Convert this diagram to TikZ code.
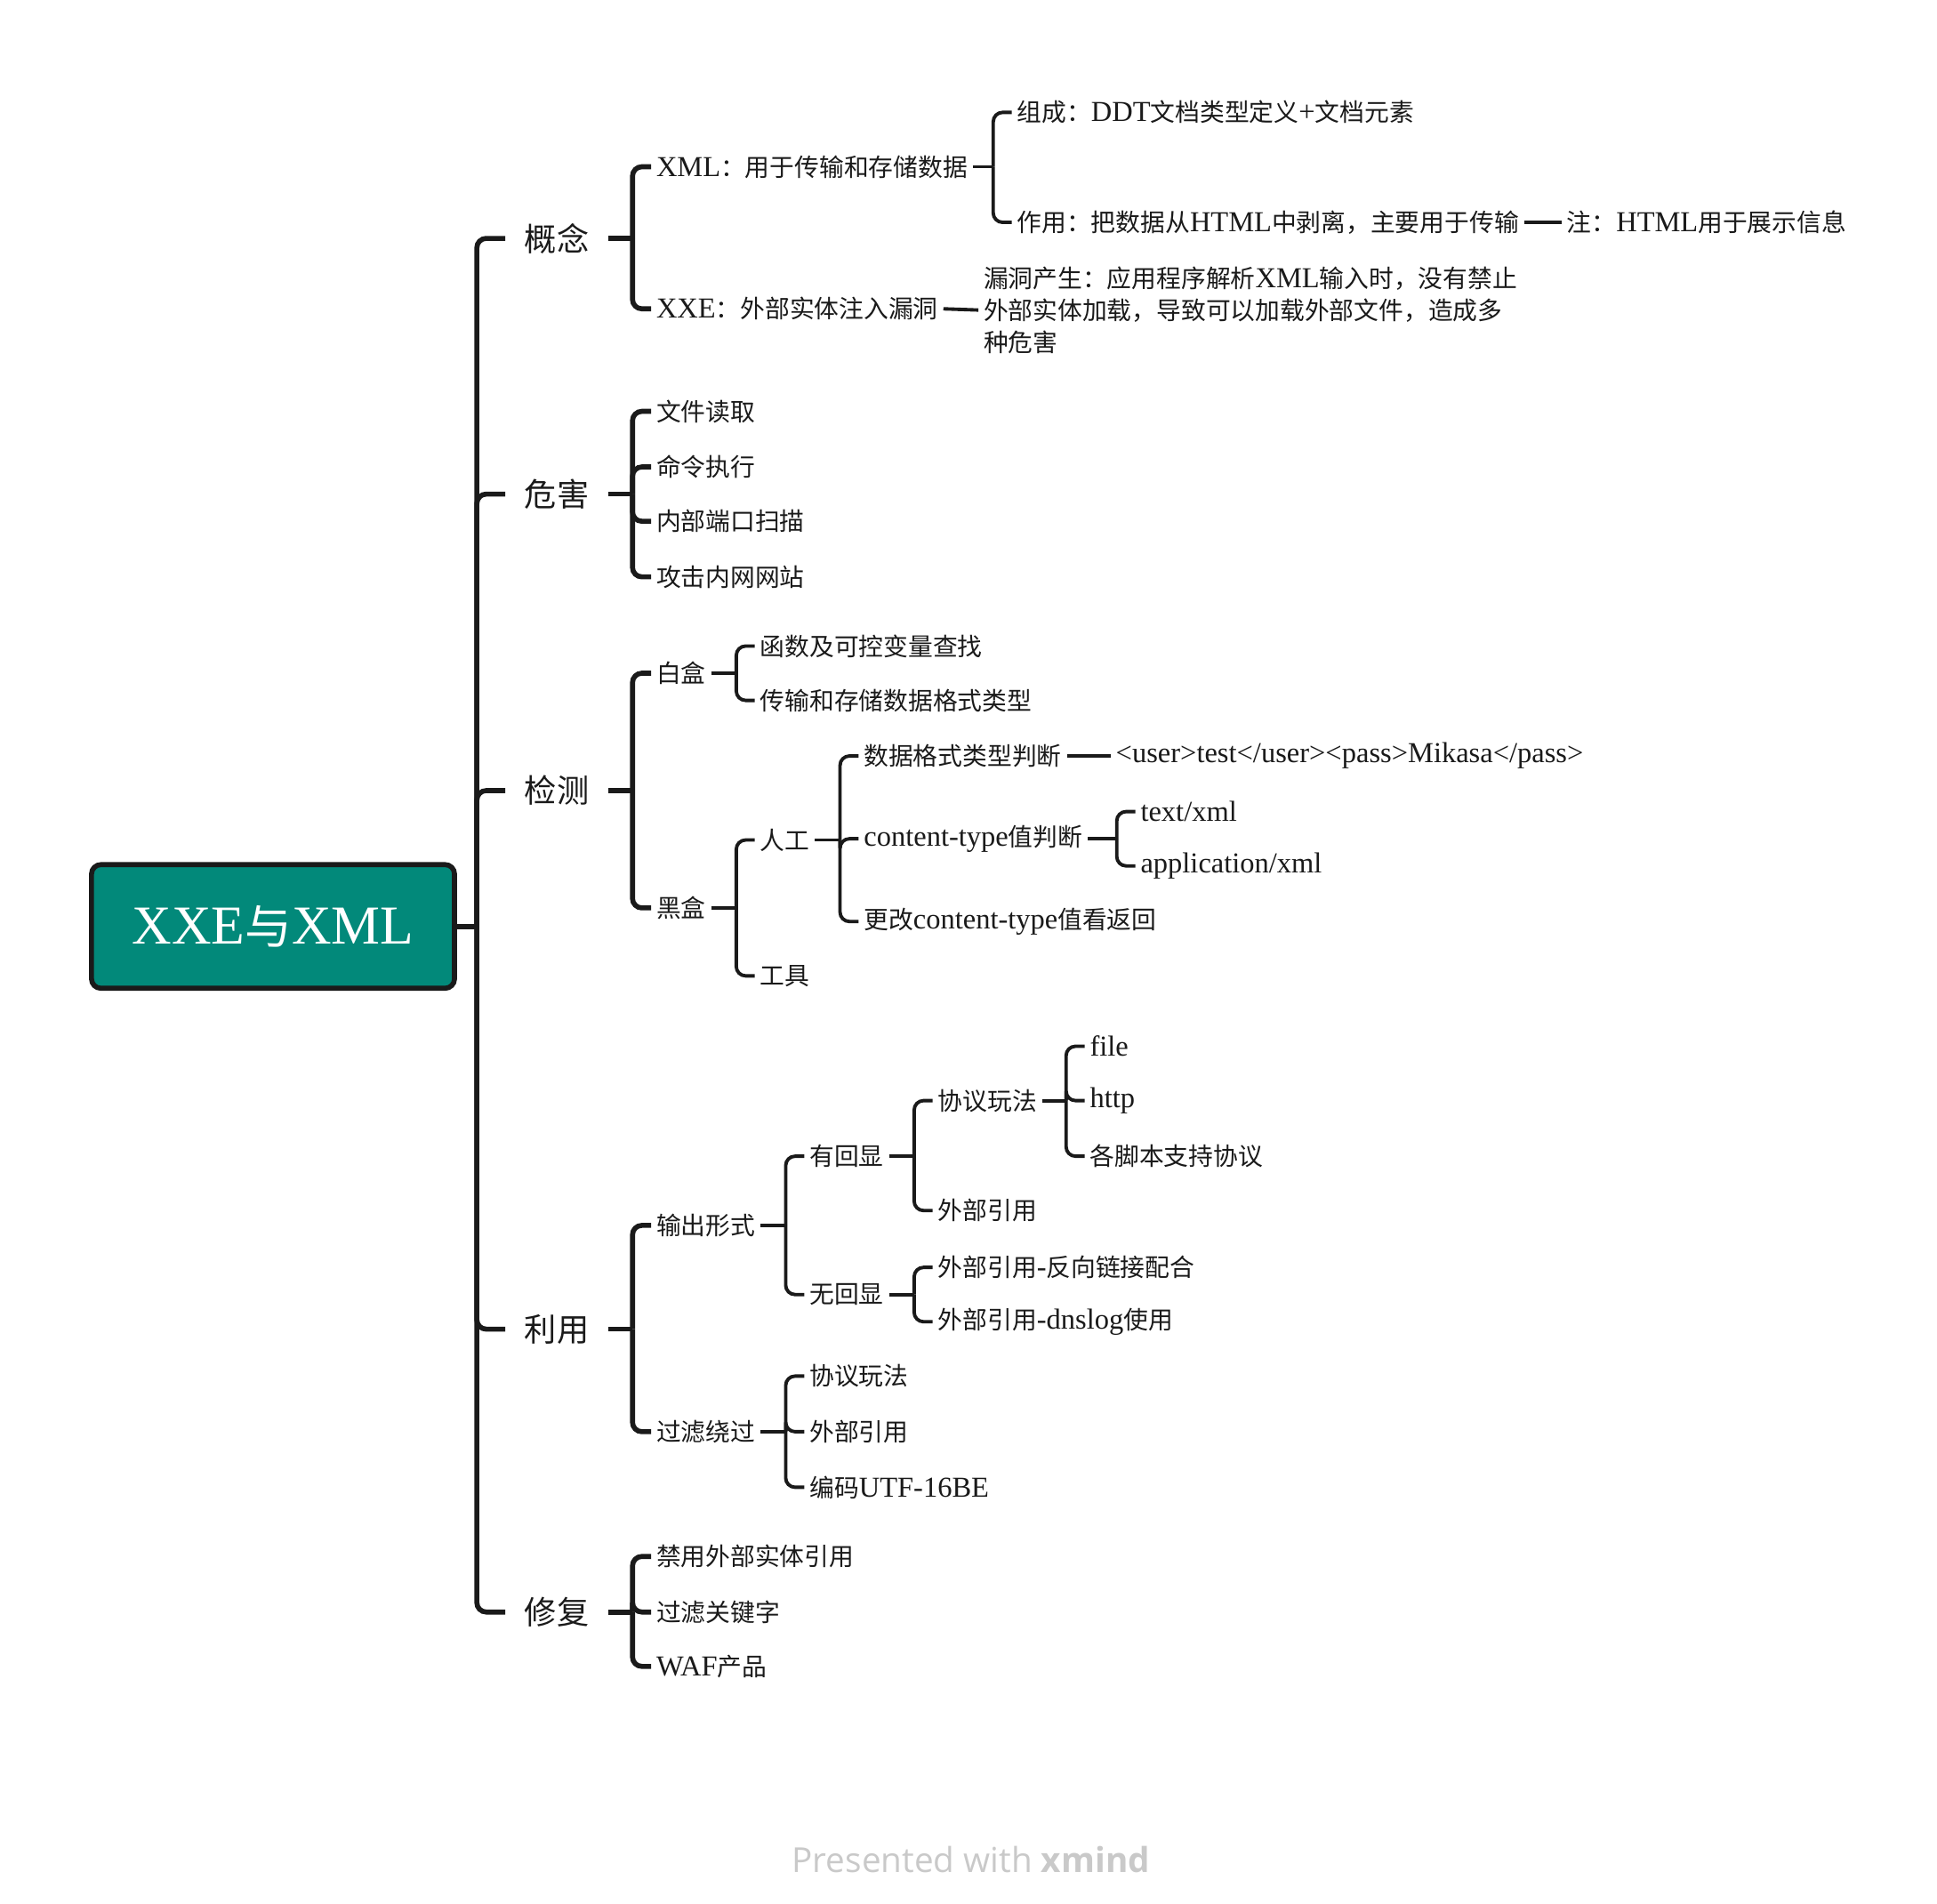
\documentclass[tikz,border=0pt]{standalone}
\usepackage{fontspec}
\setmainfont{Liberation Serif}[Scale=1.17]
\newfontfamily\zhfont{Noto Sans CJK SC}
\newfontfamily\logofont{Open Sans}
\newcommand{\zh}[1]{{\zhfont #1}}
\usetikzlibrary{positioning,calc}
\definecolor{rootfill}{HTML}{02897A}
\definecolor{ink}{HTML}{1A1A1A}
\definecolor{footgray}{HTML}{C9C9C9}

\begin{document}
\begin{tikzpicture}[x=0.01389cm,y=-0.01389cm]
    \tikzset{
      root/.style={rounded corners=3pt,draw=ink,line width=1.6pt,fill=rootfill,text=white,
        minimum width=4.08cm,minimum height=1.39cm,font=\fontsize{15}{18}\selectfont},
      topic/.style={anchor=west,inner xsep=6pt,inner ysep=2pt,text=ink,font=\fontsize{10.3}{12}\selectfont},
      leaf/.style={anchor=west,inner xsep=1.5pt,inner ysep=1pt,text=ink,font=\fontsize{7.9}{10.3}\selectfont},
      trunk/.style={draw=ink,line width=1.6pt},
      link/.style={draw=ink,line width=1.1pt},
      elbow/.style={rounded corners=3pt}
    }
    \useasboundingbox (0,0) rectangle (1568,1541);
    % root and main topics
    \node[root] (main) at (221,750) {XXE\zh{与}XML};
    \node[topic] (gn) at (409,193) {\zh{概念}};
    \node[topic] (wh) at (409,400) {\zh{危害}};
    \node[topic] (jc) at (409,640) {\zh{检测}};
    \node[topic] (ly) at (409,1076) {\zh{利用}};
    \node[topic] (xf) at (409,1305) {\zh{修复}};
    \coordinate (main-f) at (386,750);
    \draw[trunk] (main.east) -- (main-f);
    \foreach \m in {gn,wh,jc,ly,xf} \draw[trunk,elbow] (main-f) |- (\m.west);

    % 概念
    \node[leaf] (xmldef) at (527,135) {XML\zh{：用于传输和存储数据}};
    \node[leaf] (xxedef) at (527,250) {XXE\zh{：外部实体注入漏洞}};
    \node[leaf] (zucheng) at (819,91) {\zh{组成：}DDT\zh{文档类型定义}+\zh{文档元素}};
    \node[leaf] (zuoyong) at (819,180) {\zh{作用：把数据从}HTML\zh{中剥离，主要用于传输}};
    \node[leaf] (zhu) at (1264,180) {\zh{注：}HTML\zh{用于展示信息}};
    \node[leaf,align=left] (vuln) at (792,251) {\zh{漏洞产生：应用程序解析}XML\zh{输入时，没有禁止}\\
      \zh{外部实体加载，导致可以加载外部文件，造成多}\\\zh{种危害}};
    \coordinate (gn-f) at (512,193);
    \draw[trunk] (gn.east) -- (gn-f);
    \foreach \c in {xmldef,xxedef} \draw[trunk,elbow] (gn-f) |- (\c.west);
    \coordinate (xmldef-f) at (804,135);
    \draw[link] (xmldef.east) -- (xmldef-f);
    \foreach \c in {zucheng,zuoyong} \draw[link,elbow] (xmldef-f) |- (\c.west);
    \draw[link] (zuoyong.east) -- (zhu.west);
    \draw[link] (xxedef.east) -- (vuln.west);

    % 危害
    \node[leaf] (duqu) at (527,333) {\zh{文件读取}};
    \node[leaf] (zhixing) at (527,378) {\zh{命令执行}};
    \node[leaf] (saomiao) at (527,422) {\zh{内部端口扫描}};
    \node[leaf] (gongji) at (527,467) {\zh{攻击内网网站}};
    \coordinate (wh-f) at (512,400);
    \draw[trunk] (wh.east) -- (wh-f);
    \foreach \c in {duqu,zhixing,saomiao,gongji} \draw[trunk,elbow] (wh-f) |- (\c.west);

    % 检测
    \node[leaf] (baihe) at (527,545) {\zh{白盒}};
    \node[leaf] (heihe) at (527,735) {\zh{黑盒}};
    \node[leaf] (hanshu) at (611,523) {\zh{函数及可控变量查找}};
    \node[leaf] (geshi) at (611,567) {\zh{传输和存储数据格式类型}};
    \node[leaf] (rengong) at (611,680) {\zh{人工}};
    \node[leaf] (gongju) at (611,790) {\zh{工具}};
    \node[leaf] (pdgeshi) at (695,612) {\zh{数据格式类型判断}};
    \node[leaf] (pdtype) at (695,679) {content-type\zh{值判断}};
    \node[leaf] (gaitype) at (695,746) {\zh{更改}content-type\zh{值看返回}};
    \node[leaf] (payload) at (899,612) {<user>test</user><pass>Mikasa</pass>};
    \node[leaf] (textxml) at (919,657) {text/xml};
    \node[leaf] (appxml) at (919,701) {application/xml};
    \coordinate (jc-f) at (512,640);
    \draw[trunk] (jc.east) -- (jc-f);
    \foreach \c in {baihe,heihe} \draw[trunk,elbow] (jc-f) |- (\c.west);
    \coordinate (baihe-f) at (596,545);
    \draw[link] (baihe.east) -- (baihe-f);
    \foreach \c in {hanshu,geshi} \draw[link,elbow] (baihe-f) |- (\c.west);
    \coordinate (heihe-f) at (596,735);
    \draw[link] (heihe.east) -- (heihe-f);
    \foreach \c in {rengong,gongju} \draw[link,elbow] (heihe-f) |- (\c.west);
    \coordinate (rengong-f) at (680,680);
    \draw[link] (rengong.east) -- (rengong-f);
    \foreach \c in {pdgeshi,pdtype,gaitype} \draw[link,elbow] (rengong-f) |- (\c.west);
    \draw[link] (pdgeshi.east) -- (payload.west);
    \coordinate (pdtype-f) at (904,679);
    \draw[link] (pdtype.east) -- (pdtype-f);
    \foreach \c in {textxml,appxml} \draw[link,elbow] (pdtype-f) |- (\c.west);

    % 利用
    \node[leaf] (shuchu) at (527,992) {\zh{输出形式}};
    \node[leaf] (guolv) at (527,1159) {\zh{过滤绕过}};
    \node[leaf] (youhx) at (651,936) {\zh{有回显}};
    \node[leaf] (wuhx) at (651,1048) {\zh{无回显}};
    \node[leaf] (xieyi) at (755,891) {\zh{协议玩法}};
    \node[leaf] (waibu) at (755,980) {\zh{外部引用}};
    \node[leaf] (pfile) at (878,847) {file};
    \node[leaf] (phttp) at (878,891) {http};
    \node[leaf] (pscript) at (878,936) {\zh{各脚本支持协议}};
    \node[leaf] (fanxiang) at (755,1026) {\zh{外部引用}-\zh{反向链接配合}};
    \node[leaf] (dnslog) at (755,1070) {\zh{外部引用}-dnslog\zh{使用}};
    \node[leaf] (gxieyi) at (651,1114) {\zh{协议玩法}};
    \node[leaf] (gwaibu) at (651,1159) {\zh{外部引用}};
    \node[leaf] (utf) at (651,1204) {\zh{编码}UTF-16BE};
    \coordinate (ly-f) at (512,1076);
    \draw[trunk] (ly.east) -- (ly-f);
    \foreach \c in {shuchu,guolv} \draw[trunk,elbow] (ly-f) |- (\c.west);
    \coordinate (shuchu-f) at (636,992);
    \draw[link] (shuchu.east) -- (shuchu-f);
    \foreach \c in {youhx,wuhx} \draw[link,elbow] (shuchu-f) |- (\c.west);
    \coordinate (youhx-f) at (740,936);
    \draw[link] (youhx.east) -- (youhx-f);
    \foreach \c in {xieyi,waibu} \draw[link,elbow] (youhx-f) |- (\c.west);
    \coordinate (xieyi-f) at (863,891);
    \draw[link] (xieyi.east) -- (xieyi-f);
    \foreach \c in {pfile,phttp,pscript} \draw[link,elbow] (xieyi-f) |- (\c.west);
    \coordinate (wuhx-f) at (740,1048);
    \draw[link] (wuhx.east) -- (wuhx-f);
    \foreach \c in {fanxiang,dnslog} \draw[link,elbow] (wuhx-f) |- (\c.west);
    \coordinate (guolv-f) at (636,1159);
    \draw[link] (guolv.east) -- (guolv-f);
    \foreach \c in {gxieyi,gwaibu,utf} \draw[link,elbow] (guolv-f) |- (\c.west);

    % 修复
    \node[leaf] (jinyong) at (527,1260) {\zh{禁用外部实体引用}};
    \node[leaf] (guanjian) at (527,1305) {\zh{过滤关键字}};
    \node[leaf] (waf) at (527,1349) {WAF\zh{产品}};
    \coordinate (xf-f) at (512,1305);
    \draw[trunk] (xf.east) -- (xf-f);
    \foreach \c in {jinyong,guanjian,waf} \draw[trunk,elbow] (xf-f) |- (\c.west);

    \node[text=footgray,font=\logofont\fontsize{11}{13}\selectfont] (footer) at (786,1505) {Presented with \textbf{xmind}};
  \end{tikzpicture}
\end{document}
